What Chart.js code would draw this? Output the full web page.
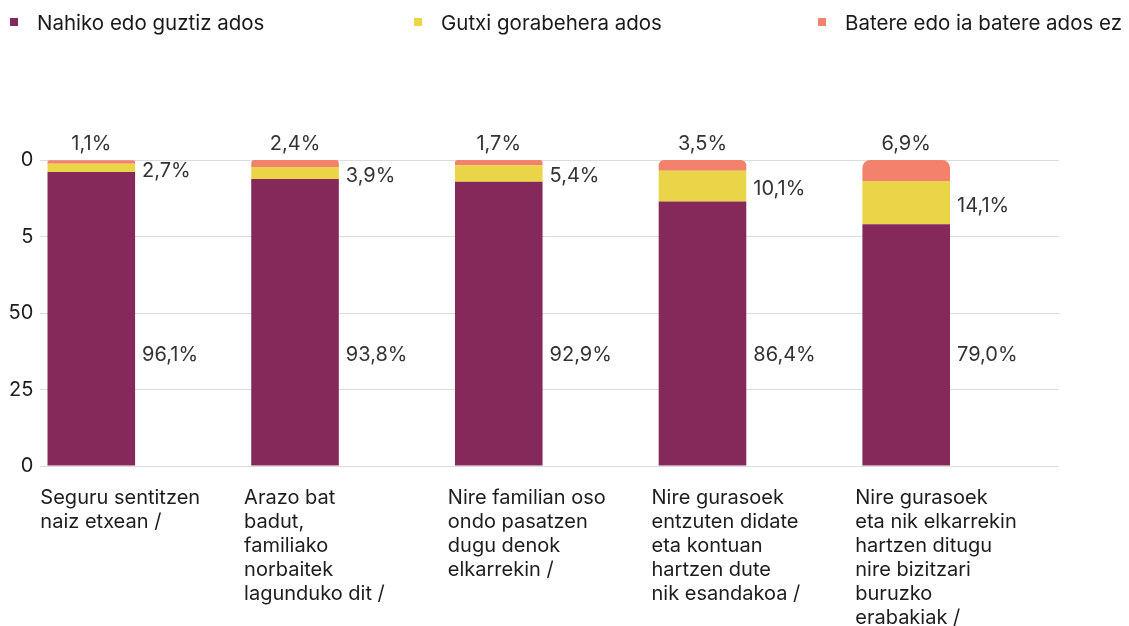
<!DOCTYPE html>
<html>
<head>
<meta charset="utf-8">
<script src="https://cdn.jsdelivr.net/npm/chart.js@4.4.1/dist/chart.umd.min.js"></script>
<style>
    html, body { margin: 0; padding: 0; background: #fff; overflow: hidden; }
    #wrap { position: relative; width: 1129px; height: 626px; overflow: hidden; font-family: Inter, "Noto Sans", sans-serif; }
    #chart { position: absolute; left: 0; top: 0; }
    #legend { position: absolute; left: 10px; top: 8px; display: flex; white-space: nowrap; }
    .item { width: 404px; display: flex; align-items: center; font-size: 20.5px; color: #1a1a1a; height: 28px; }
    .sw { width: 8px; height: 8px; margin-right: 19px; flex: none; }
    #cut { position: absolute; left: 0; top: 130px; width: 22px; height: 120px; background: #fff; }
</style>
</head>
<body>
<div id="wrap">
    <canvas id="chart" width="1129" height="664"></canvas>
    <div id="cut"></div>
    <div id="legend"></div>
</div>
<script>
// Datos del gráfico
const categories = [
    ['Seguru sentitzen', 'naiz etxean /'],
    ['Arazo bat', 'badut,', 'familiako', 'norbaitek', 'lagunduko dit /'],
    ['Nire familian oso', 'ondo pasatzen', 'dugu denok', 'elkarrekin /'],
    ['Nire gurasoek', 'entzuten didate', 'eta kontuan', 'hartzen dute', 'nik esandakoa /'],
    ['Nire gurasoek', 'eta nik elkarrekin', 'hartzen ditugu', 'nire bizitzari', 'buruzko', 'erabakiak /']
];
const seriesNames = ['Nahiko edo guztiz ados', 'Gutxi gorabehera ados', 'Batere edo ia batere ados ez'];
const nahiko = [96.1, 93.8, 92.9, 86.4, 79.0];
const gutxi = [2.7, 3.9, 5.4, 10.1, 14.1];
const batere = [1.1, 2.4, 1.7, 3.5, 6.9];
const yTicks = [0, 25, 50, 75, 100];

const colors = ['#85295a', '#e9d547', '#f2826b'];
const FONT = 'Inter, "Noto Sans", sans-serif';

// Leyenda en HTML
const legend = document.getElementById('legend');
seriesNames.forEach((name, i) => {
    const item = document.createElement('div');
    item.className = 'item';
    item.innerHTML = `<span class="sw" style="background:${colors[i]}"></span><span>${name}</span>`;
    legend.appendChild(item);
});

function fmt(v) {
    return v.toFixed(1).replace('.', ',') + '%';
}

// Etiquetas de valores
const PURPLE_LABEL_AT = 36.4;
const valueLabels = {
    id: 'valueLabels',
    afterDatasetsDraw(chart) {
        const ctx = chart.ctx;
        const yScale = chart.scales.y;
        ctx.save();
        ctx.font = '20px ' + FONT;
        ctx.fillStyle = '#333';
        chart.data.datasets.forEach((ds, di) => {
            if (!ds.labelPos) return;
            chart.getDatasetMeta(di).data.forEach((bar, i) => {
                const text = fmt(ds.data[i]);
                const right = bar.x + bar.width / 2 + 7;
                ctx.textBaseline = 'middle';
                if (ds.labelPos === 'top') {
                    ctx.textAlign = 'center';
                    ctx.fillText(text, bar.x, bar.y - 16);
                } else if (ds.labelPos === 'mid') {
                    ctx.textAlign = 'left';
                    ctx.fillText(text, right, (bar.y + bar.base) / 2 + 3);
                } else {
                    ctx.textAlign = 'left';
                    ctx.fillText(text, right, yScale.getPixelForValue(PURPLE_LABEL_AT));
                }
            });
        });
        ctx.restore();
    }
};

const common = { stack: 'a', borderWidth: 0, borderRadius: 8, categoryPercentage: 1, barPercentage: 0.86 };

new Chart(document.getElementById('chart'), {
    type: 'bar',
    data: {
        labels: categories,
        datasets: [
            { ...common, label: seriesNames[0], data: nahiko, backgroundColor: colors[0], labelPos: 'side' },
            { ...common, label: seriesNames[1], data: gutxi, backgroundColor: colors[1], labelPos: 'mid' },
            { ...common, label: seriesNames[2], data: batere, backgroundColor: colors[2], labelPos: 'top' },
            // pila vacía para desplazar las barras a la izquierda
            { ...common, stack: 'b', label: '', data: [0, 0, 0, 0, 0], backgroundColor: 'rgba(0,0,0,0)' }
        ]
    },
    options: {
        responsive: false,
        animation: false,
        devicePixelRatio: 1,
        layout: { padding: { top: 160, right: 70, bottom: 14, left: -7 } },
        plugins: { legend: { display: false }, tooltip: { enabled: false } },
        scales: {
            x: { stacked: true, display: false },
            x2: {
                type: 'category',
                labels: [...categories, ''],
                offset: false,
                position: 'bottom',
                grid: { display: false, drawTicks: false },
                border: { display: false },
                ticks: {
                    align: 'start',
                    autoSkip: false,
                    maxRotation: 0,
                    minRotation: 0,
                    padding: 20,
                    color: '#1d1d1d',
                    font: { family: FONT, size: 20, lineHeight: 1.2 }
                }
            },
            y: {
                stacked: true,
                min: 0,
                max: 100,
                afterBuildTicks: axis => { axis.ticks = yTicks.map(v => ({ value: v })); },
                grid: { color: '#dcdcdc', drawTicks: false },
                border: { display: false },
                ticks: { padding: 7, color: '#1d1d1d', font: { family: FONT, size: 20 } }
            }
        }
    },
    plugins: [valueLabels]
});
</script>
</body>
</html>
